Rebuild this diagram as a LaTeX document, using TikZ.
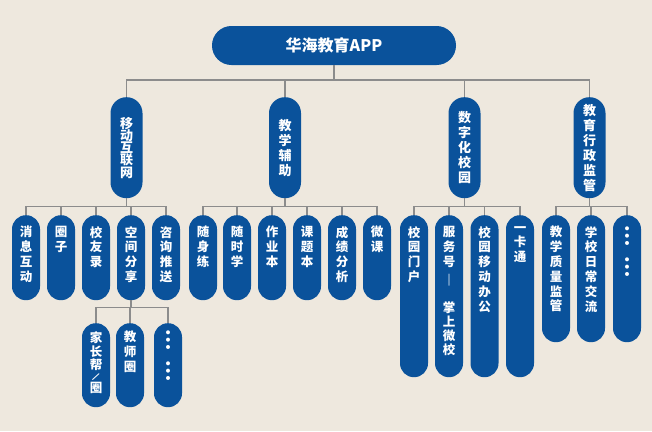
\documentclass[tikz,border=0pt]{standalone}
\usepackage{fontspec}
\newfontfamily\cjk{Noto Sans CJK SC}
\setlength{\lineskiplimit}{-99pt}

\definecolor{edublue}{RGB}{10,82,155}
\definecolor{paper}{RGB}{238,232,222}
\definecolor{wirecol}{RGB}{140,140,140}

% column of characters, hung from the top of the box
\newcommand{\vcol}[3]{\parbox[c][#1][t]{24pt}{\vspace*{#2}\centering #3}}
\newcommand{\moredots}{\fontsize{22}{31.5}\selectfont ︙\\︙}

\begin{document}
\begin{tikzpicture}[x=1pt, y=-1pt,
  hub/.style={fill=edublue, text=white, inner sep=0pt, minimum width=244pt, minimum height=39pt,
    rounded corners=19.4pt, font=\cjk\bfseries\fontsize{16}{19}\selectfont},
  branch/.style={fill=edublue, text=white, inner sep=0pt, anchor=north, minimum width=32pt,
    minimum height=101pt, rounded corners=15.9pt, align=center, font=\cjk\bfseries\fontsize{13}{15}\selectfont},
  leaf/.style={fill=edublue, text=white, inner sep=0pt, anchor=north, minimum width=28pt,
    rounded corners=13.9pt, font=\cjk\bfseries\fontsize{12.5}{14.8}\selectfont},
  wire/.style={draw=wirecol, line width=1.6pt}]
\fill[paper] (0,0) rectangle (652,431);
\useasboundingbox (0,0) rectangle (652,431);

\node[hub] (app) at (334,45.5) {华海教育APP};

% first level
\node[branch, font=\cjk\bfseries\fontsize{13}{12.3}\selectfont] (mobile) at (126.5,97) {移\\动\\互\\联\\网};
\node[branch] (teach) at (285,97) {教\\学\\辅\\助};
\node[branch] (campus) at (464.5,97) {数\\字\\化\\校\\园};
\node[branch] (admin) at (589.5,97) {教\\育\\行\\政\\监\\管};

% second level
\node[leaf] (xiaoxi) at (26,215) {\vcol{85pt}{11pt}{消\\息\\互\\动}};
\node[leaf] (quanzi) at (61,215) {\vcol{85pt}{11pt}{圈\\子}};
\node[leaf] (xiaoyou) at (96,215) {\vcol{85pt}{11pt}{校\\友\\录}};
\node[leaf] (kongjian) at (131,215) {\vcol{85pt}{11pt}{空\\间\\分\\享}};
\node[leaf] (zixun) at (166,215) {\vcol{85pt}{11pt}{咨\\询\\推\\送}};

\node[leaf] (suishen) at (203,215) {\vcol{85pt}{11pt}{随\\身\\练}};
\node[leaf] (suishi) at (237,215) {\vcol{85pt}{11pt}{随\\时\\学}};
\node[leaf] (zuoye) at (272,215) {\vcol{85pt}{11pt}{作\\业\\本}};
\node[leaf] (keti) at (307,215) {\vcol{85pt}{11pt}{课\\题\\本}};
\node[leaf] (chengji) at (342,215) {\vcol{85pt}{11pt}{成\\绩\\分\\析}};
\node[leaf] (weike) at (377,215) {\vcol{85pt}{11pt}{微\\课}};

\node[leaf] (menhu) at (414,215) {\vcol{162pt}{11pt}{校\\园\\门\\户}};
\node[leaf] (fuwu) at (449,215) {\vcol{162pt}{11pt}{服\\务\\号\\[5pt]{\fontsize{14}{14.8}\selectfont ︱}\\[12pt]掌\\[-1pt]上\\[-1pt]微\\[-1pt]校}};
\node[leaf] (bangong) at (484.5,215) {\vcol{162pt}{11pt}{校\\园\\移\\动\\办\\公}};
\node[leaf] (yikatong) at (520,215) {\vcol{162pt}{11pt}{一\\卡\\通}};

\node[leaf] (zhiliang) at (556,215) {\vcol{127pt}{11pt}{教\\学\\质\\量\\监\\管}};
\node[leaf] (richang) at (591,215) {\vcol{127pt}{11pt}{学\\校\\日\\常\\交\\流}};
\node[leaf] (moreb) at (627,215) {\vcol{127pt}{11.5pt}{\moredots}};

% third level
\node[leaf] (jiazhang) at (96,323) {\vcol{84pt}{8pt}{家\\长\\[-2pt]帮\\[-4pt]{\fontsize{9}{9}\selectfont\rotatebox[origin=c]{-35}{/}}\\[-3pt]圈}};
\node[leaf] (jiaoshi) at (130,323) {\vcol{84pt}{8pt}{教\\师\\圈}};
\node[leaf] (morea) at (168,323) {\vcol{84pt}{7.5pt}{\moredots}};

% connectors
\draw[wire] (app.south) -- ++(0,15) -| (mobile.north)
  (app.south) ++(0,15) -| (teach.north)
  (app.south) ++(0,15) -| (campus.north)
  (app.south) ++(0,15) -| (admin.north);
\draw[wire] (mobile.south) -- ++(0,8) -| (xiaoxi.north)
  (mobile.south) ++(0,8) -| (quanzi.north)
  (mobile.south) ++(0,8) -| (xiaoyou.north)
  (mobile.south) ++(0,8) -| (kongjian.north)
  (mobile.south) ++(0,8) -| (zixun.north);
\draw[wire] (teach.south) -- ++(0,8) -| (suishen.north)
  (teach.south) ++(0,8) -| (suishi.north)
  (teach.south) ++(0,8) -| (zuoye.north)
  (teach.south) ++(0,8) -| (keti.north)
  (teach.south) ++(0,8) -| (chengji.north)
  (teach.south) ++(0,8) -| (weike.north);
\draw[wire] (campus.south) -- ++(0,8) -| (menhu.north)
  (campus.south) ++(0,8) -| (fuwu.north)
  (campus.south) ++(0,8) -| (bangong.north)
  (campus.south) ++(0,8) -| (yikatong.north);
\draw[wire] (admin.south) -- ++(0,8) -| (zhiliang.north)
  (admin.south) ++(0,8) -| (richang.north)
  (admin.south) ++(0,8) -| (moreb.north);
\draw[wire] (kongjian.south) -- ++(0,7) -| (jiazhang.north)
  (kongjian.south) ++(0,7) -| (jiaoshi.north)
  (kongjian.south) ++(0,7) -| (morea.north);
\end{tikzpicture}
\end{document}
